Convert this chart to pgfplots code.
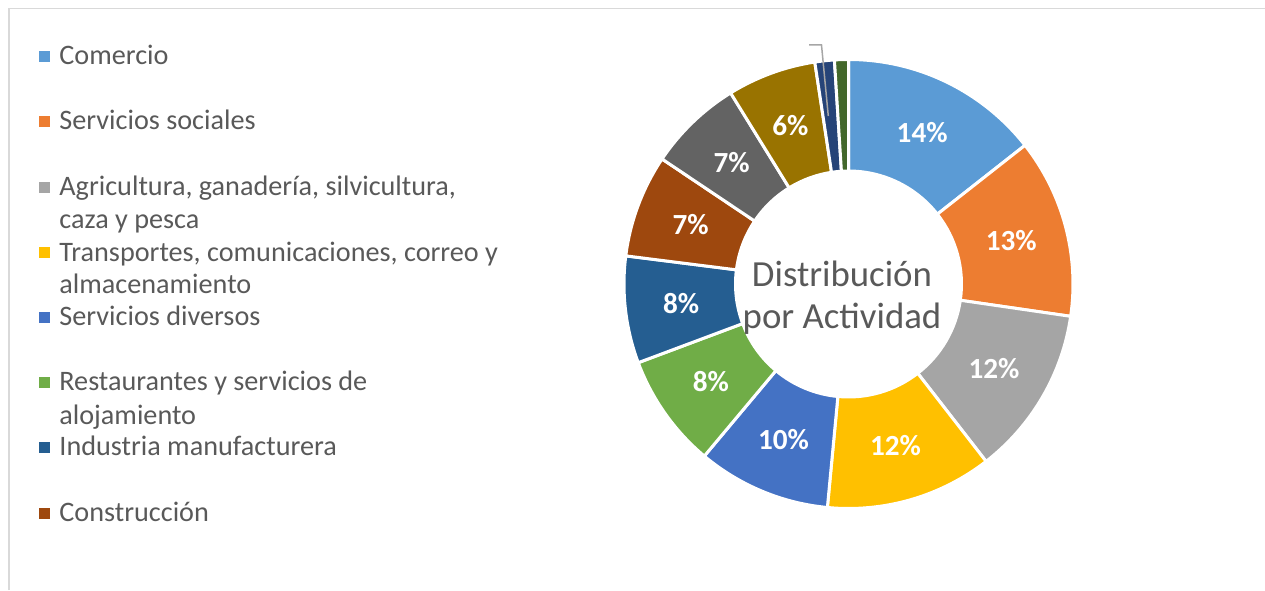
\documentclass[border=0pt]{standalone}
\usepackage{pgfplots}
\pgfplotsset{compat=1.18}
\usepackage{pgfplotstable}
\usepackage{fontspec}
\setmainfont{Carlito}
\definecolor{c0}{HTML}{5B9BD5}
\definecolor{c1}{HTML}{ED7D31}
\definecolor{c2}{HTML}{A5A5A5}
\definecolor{c3}{HTML}{FFC000}
\definecolor{c4}{HTML}{4472C4}
\definecolor{c5}{HTML}{70AD47}
\definecolor{c6}{HTML}{255E91}
\definecolor{c7}{HTML}{9E480E}
\definecolor{c8}{HTML}{636363}
\definecolor{c9}{HTML}{997300}
\definecolor{c10}{HTML}{264478}
\definecolor{c11}{HTML}{43682B}
\definecolor{txt}{HTML}{595959}
\definecolor{framec}{HTML}{D9D9D9}
\definecolor{leader}{HTML}{A6A6A6}
\newcommand\labfont{\fontsize{14.6pt}{16pt}\selectfont\bfseries}
\newcommand\legfont{\fontsize{14.1pt}{16.5pt}\selectfont}
\newcommand\ctrfont{\fontsize{18.4pt}{21pt}\selectfont}
\pgfplotstableread{
id value
0 14.4
1 12.9
2 12.2
3 12.0
4 9.6
5 8.2
6 7.7
7 7.4
8 6.8
9 6.4
10 1.4
11 1.0
}\datatable
\begin{document}
\begin{tikzpicture}
\begin{axis}[x=0.5pt, y=0.5pt, xmin=0, xmax=1265, ymin=0, ymax=590,
  enlargelimits=false, hide axis, scale only axis, clip=false,
  anchor=south west, at={(0,0)}]
% frame
\addplot[framec, line width=0.75pt, no marks] coordinates {(9,0) (9,581.5) (1270,581.5)};
% donut
\pgfmathsetmacro\cum{0}
\pgfplotsforeachungrouped \idx in {0,...,11}{%
  \pgfplotstablegetelem{\idx}{value}\of\datatable
  \pgfmathsetmacro\v{\pgfplotsretval}
  \pgfmathsetmacro\sa{90-3.6*\cum}
  \pgfmathsetmacro\ea{90-3.6*(\cum+\v)}
  \pgfmathsetmacro\ma{(\sa+\ea)/2}
  \pgfmathsetmacro\xo{848.5+224.5*cos(\sa)}
  \pgfmathsetmacro\yo{306+224.5*sin(\sa)}
  \pgfmathsetmacro\xin{848.5+113*cos(\ea)}
  \pgfmathsetmacro\yin{306+113*sin(\ea)}
  \pgfmathsetmacro\xl{848.5+168.5*cos(\ma)}
  \pgfmathsetmacro\yl{306+168.5*sin(\ma)}
  \pgfmathtruncatemacro\pl{round(\v)}
  \edef\cmd{\noexpand\fill[c\idx, draw=white, line width=1.5pt, line join=miter] (axis cs:\xo,\yo) arc[start angle=\sa, end angle=\ea, radius=112.25pt] -- (axis cs:\xin,\yin) arc[start angle=\ea, end angle=\sa, radius=56.5pt] -- cycle;}%
  \cmd
  \ifnum\pl>4
    \edef\cmd{\noexpand\node[font=\noexpand\labfont, text=white, inner sep=0pt] at (axis cs:\xl,\yl) {\pl\noexpand\%};}%
    \cmd
  \fi
  \pgfmathsetmacro\cum{\cum+\v}
}
% leader line for small slice
\addplot[leader, line width=0.75pt, no marks] coordinates {(828.3,474) (821.5,545) (809,545)};
% centre text
\node[font=\ctrfont, text=txt, anchor=base, inner sep=0pt] at (axis cs:842,303.3) {Distribución};
\node[font=\ctrfont, text=txt, anchor=base, inner sep=0pt] at (axis cs:842,261.7) {por Actividad};
% legend
\fill[c0] (axis cs:39,528) rectangle (axis cs:50,539);
\node[font=\legfont, text=txt, anchor=base west, inner sep=0pt] at (axis cs:59,525) {Comercio};
\fill[c1] (axis cs:39,463) rectangle (axis cs:50,474);
\node[font=\legfont, text=txt, anchor=base west, inner sep=0pt] at (axis cs:59,460) {Servicios sociales};
\fill[c2] (axis cs:39,397) rectangle (axis cs:50,408);
\node[font=\legfont, text=txt, anchor=base west, inner sep=0pt] at (axis cs:59,394) {Agricultura, ganadería, silvicultura,};
\node[font=\legfont, text=txt, anchor=base west, inner sep=0pt] at (axis cs:59,361) {caza y pesca};
\fill[c3] (axis cs:39,331.5) rectangle (axis cs:50,342.5);
\node[font=\legfont, text=txt, anchor=base west, inner sep=0pt] at (axis cs:59,328.5) {Transportes, comunicaciones, correo y};
\node[font=\legfont, text=txt, anchor=base west, inner sep=0pt] at (axis cs:59,296) {almacenamiento};
\fill[c4] (axis cs:39,267) rectangle (axis cs:50,278);
\node[font=\legfont, text=txt, anchor=base west, inner sep=0pt] at (axis cs:59,264) {Servicios diversos};
\fill[c5] (axis cs:39,202) rectangle (axis cs:50,213);
\node[font=\legfont, text=txt, anchor=base west, inner sep=0pt] at (axis cs:59,199) {Restaurantes y servicios de};
\node[font=\legfont, text=txt, anchor=base west, inner sep=0pt] at (axis cs:59,166) {alojamiento};
\fill[c6] (axis cs:39,137) rectangle (axis cs:50,148);
\node[font=\legfont, text=txt, anchor=base west, inner sep=0pt] at (axis cs:59,134) {Industria manufacturera};
\fill[c7] (axis cs:39,71.5) rectangle (axis cs:50,82.5);
\node[font=\legfont, text=txt, anchor=base west, inner sep=0pt] at (axis cs:59,68.5) {Construcción};
\end{axis}
\pgfresetboundingbox
\path (0,0) rectangle (632.5pt,295pt);
\end{tikzpicture}
\end{document}
